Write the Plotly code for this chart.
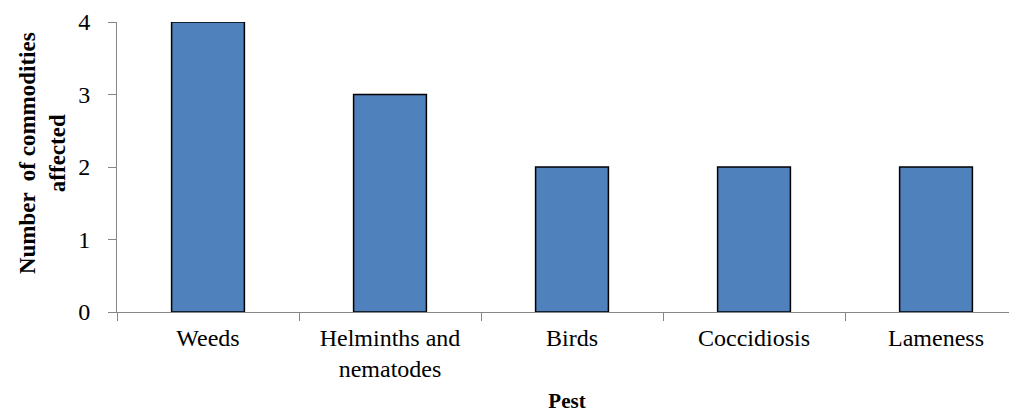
import plotly.graph_objects as go

categories = ["Weeds", "Helminths and<br>nematodes", "Birds", "Coccidiosis", "Lameness"]
values = [4, 3, 2, 2, 2]
y_ticks = [0, 1, 2, 3, 4]
y_title = "<b>Number  of commodities<br>affected</b>"
x_title = "<b>Pest</b>"

fig = go.Figure()
fig.add_trace(go.Bar(
    x=categories, y=values, width=0.4,
    marker=dict(color="#4F81BD", line=dict(color="#000000", width=1.5)),
))

serif = "Liberation Serif"
# page body has an 8px default margin; the sizes below compensate for it
fig.update_layout(
    width=1009, height=405,
    margin=dict(l=109, r=0, t=14, b=101),
    plot_bgcolor="white", paper_bgcolor="white",
    showlegend=False,
    font=dict(family=serif, color="#000000", size=24),
    bargap=0.6,
)
fig.update_xaxes(
    range=[-0.5, 4.445], tickson="boundaries", automargin=False,
    showline=True, linecolor="#868686", linewidth=1,
    ticks="outside", ticklen=8, tickcolor="#868686",
    tickfont=dict(family=serif, size=24, color="#000000"),
    ticklabelstandoff=4,
    showgrid=False, zeroline=False,
    title=dict(text=x_title, font=dict(family=serif, size=21), standoff=13),
)
fig.update_yaxes(
    range=[0, 4], tickvals=y_ticks, automargin=False,
    showline=True, linecolor="#868686", linewidth=1,
    ticks="outside", ticklen=8, tickcolor="#868686",
    tickfont=dict(family=serif, size=24, color="#000000"),
    ticklabelstandoff=13,
    showgrid=False, zeroline=False,
)
fig.add_annotation(
    text=y_title, textangle=-90, showarrow=False,
    xref="paper", yref="paper", x=0, y=0.548,
    xanchor="center", yanchor="middle", xshift=-75,
    font=dict(family=serif, size=23, color="#000000"),
)
fig.write_html("out.html")
